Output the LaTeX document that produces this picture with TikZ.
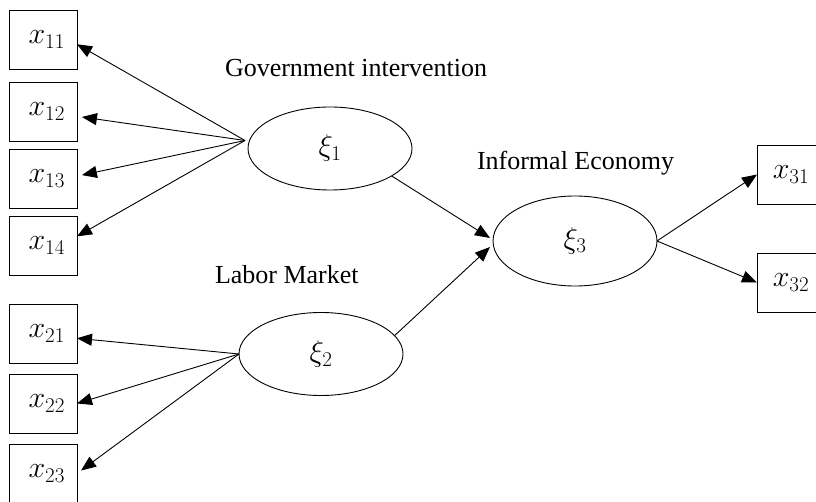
\RequirePackage{fix-cm}
\documentclass[tikz,border=0pt]{standalone}
\usepackage{amsmath}
\usepackage{fontspec}
\setmainfont{Liberation Serif}
\DeclareMathSizes{30}{30}{21}{15}
\usetikzlibrary{positioning,shapes.geometric,arrows.meta}

\begin{document}
\begin{tikzpicture}[x=1pt, y=-1pt]
	\useasboundingbox (0,0) rectangle (816,502);
	\begin{scope}[line width=0.9pt, >={Triangle[length=15pt, width=12pt]}]
		\tikzstyle{every node}=[inner sep=0pt, outer sep=0pt]
		\tikzstyle{obs}=[draw, rectangle, minimum width=68pt, minimum height=59pt, font=\fontsize{30}{36}\selectfont]
		\tikzstyle{lat}=[draw, ellipse, minimum width=164pt, minimum height=83pt, font=\fontsize{30}{36}\selectfont]
		\tikzstyle{lbl}=[anchor=base west, font=\fontsize{26}{30}\selectfont]

		% indicators of the three constructs
		\node[obs] (x11) at (43, 39.5)  {\ $x_{11}$};
		\node[obs] (x12) at (43, 111.5) {\ $x_{12}$};
		\node[obs] (x13) at (43, 178.5) {\ $x_{13}$};
		\node[obs] (x14) at (43, 245.5) {\ $x_{14}$};

		\node[obs] (x21) at (43, 333.5) {\ $x_{21}$};
		\node[obs] (x22) at (43, 403.5) {\ $x_{22}$};
		\node[obs] (x23) at (43, 473.5) {\ $x_{23}$};

		\node[obs] (x31) at (791, 174.5) {$x_{31}$};
		\node[obs] (x32) at (791, 282.5) {$x_{32}$};

		% latent variables
		\node[lat] (xi1) at (330, 148.5) {$\xi_1$};
		\node[lat] (xi2) at (321, 354)   {$\xi_2$};
		\node[lat, minimum height=90pt] (xi3) at (575, 241) {$\xi_3$};

		\node[lbl] (gov) at (225, 77)  {Government intervention};
		\node[lbl] (inf) at (477, 170) {Informal Economy};
		\node[lbl] (lab) at (215, 284) {Labor Market};

		\draw [->] ([shift={(-3,-8)}]xi1.west) to (x11.-8);
		\draw [->, shorten >=5pt] ([shift={(-3,-8)}]xi1.west) to (x12.-8);
		\draw [->, shorten >=5pt] ([shift={(-3,-8)}]xi1.west) to (x13.4);
		\draw [->] ([shift={(-3,-8)}]xi1.west) to (x14.15);

		\draw [->] (xi2.west) to (x21.-8);
		\draw [->] (xi2.west) to (x22.east);
		\draw [->, shorten >=5pt] (xi2.west) to (x23.east);

		\draw [->] (xi1.-24) to ([shift={(-3,-3)}]xi3.west);
		\draw [->] (xi2.14) to ([shift={(-3,6)}]xi3.west);

		\draw [->] (xi3.east) to (x31.west);
		\draw [->] (xi3.east) to (x32.west);
	\end{scope}
\end{tikzpicture}
\end{document}
